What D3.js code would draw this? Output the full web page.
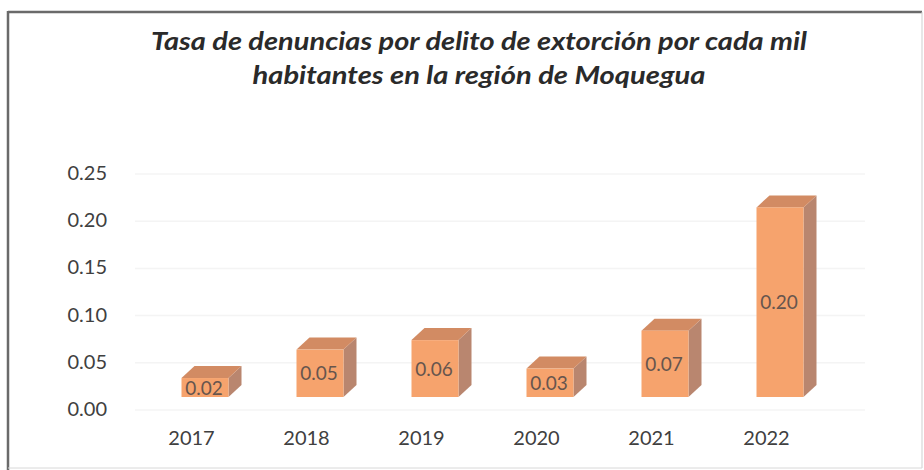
<!DOCTYPE html>
<html>
<head>
<meta charset="utf-8">
<script src="https://cdn.jsdelivr.net/npm/d3@7"></script>
<style>
  body { margin: 0; background: #fff; }
  text { font-family: Lato, "Open Sans", sans-serif; }
</style>
</head>
<body>
<script>
const width = 924;
const height = 470;

// data
const years = ["2017", "2018", "2019", "2020", "2021", "2022"];
const tasas = [0.02, 0.05, 0.06, 0.03, 0.07, 0.20];
const tickValues = [0, 0.05, 0.10, 0.15, 0.20, 0.25];
const titleLines = [
    "Tasa de denuncias por delito de extorción por cada mil",
    "habitantes en la región de Moquegua"
];

const colorFront = "#f6a36d";
const colorTop = "#d28b63";
const colorSide = "#b9866f";

const svg = d3.select("body")
    .append("svg")
    .attr("width", width)
    .attr("height", height);

// frame
svg.append("rect")
    .attr("x", 0).attr("y", 0)
    .attr("width", width).attr("height", height)
    .attr("fill", "#fff");
svg.append("line")
    .attr("x1", 8).attr("y1", 12).attr("x2", 922).attr("y2", 12)
    .attr("stroke", "#6a6a6a").attr("stroke-width", 2.5);
svg.append("line")
    .attr("x1", 8).attr("y1", 11).attr("x2", 8).attr("y2", 470)
    .attr("stroke", "#6a6a6a").attr("stroke-width", 2.5);
svg.append("line")
    .attr("x1", 922).attr("y1", 12).attr("x2", 922).attr("y2", 468)
    .attr("stroke", "#cfcfcf").attr("stroke-width", 1);
svg.append("line")
    .attr("x1", 8).attr("y1", 468).attr("x2", 922).attr("y2", 468)
    .attr("stroke", "#d8d8d8").attr("stroke-width", 1);

// title
svg.append("g")
    .selectAll("text")
    .data(titleLines)
    .enter()
    .append("text")
    .attr("x", 479)
    .attr("y", (d, i) => 50 + i * 34)
    .attr("text-anchor", "middle")
    .attr("font-size", 25)
    .attr("font-weight", "bold")
    .attr("font-style", "italic")
    .attr("fill", "#2a2a2a")
    .attr("textLength", (d, i) => i === 0 ? 656 : 453)
    .attr("lengthAdjust", "spacingAndGlyphs")
    .text(d => d);

// scales
const x = d3.scaleBand()
    .domain(years)
    .range([134, 824])
    .padding(0);

// back wall (axis labels / gridlines)
const yWall = d3.scaleLinear().domain([0, 0.25]).range([409, 173]);
// front face of the columns
const yBar = d3.scaleLinear().domain([0, 0.25]).range([397, 160]);

const depthX = 13;
const depthY = -12;
const faceW = 47;
const faceOff = -10;

// faint gridlines on the back wall
svg.append("g")
    .selectAll("line")
    .data(tickValues)
    .enter()
    .append("line")
    .attr("x1", 135)
    .attr("x2", 865)
    .attr("y1", d => yWall(d) + 1)
    .attr("y2", d => yWall(d) + 1)
    .attr("stroke", "#f4f4f4")
    .attr("stroke-width", 1.5);

// y axis
const yAxis = d3.axisLeft(yWall)
    .tickValues(tickValues)
    .tickFormat(d3.format(".2f"))
    .tickSize(0)
    .tickPadding(0);
const gy = svg.append("g")
    .attr("transform", "translate(107,0)")
    .call(yAxis);
gy.select(".domain").remove();
gy.selectAll("text")
    .attr("font-size", 20)
    .attr("fill", "#404040");

// x axis labels
const xAxis = d3.axisBottom(x).tickSize(0).tickPadding(0);
const gx = svg.append("g")
    .attr("transform", "translate(0,431)")
    .call(xAxis);
gx.select(".domain").remove();
gx.selectAll("text")
    .attr("font-size", 20)
    .attr("fill", "#404040");

// 3D columns
const bars = svg.append("g")
    .selectAll("g")
    .data(years.map((y, i) => ({ year: y, value: tasas[i] })))
    .enter()
    .append("g");

const fx = d => x(d.year) + x.bandwidth() / 2 + faceOff;

bars.append("path")
    .attr("fill", colorSide)
    .attr("d", d => {
        const x1 = fx(d) + faceW, yt = yBar(d.value), yb = yBar(0);
        return `M${x1},${yt} L${x1 + depthX},${yt + depthY} L${x1 + depthX},${yb + depthY} L${x1},${yb} Z`;
    });

bars.append("path")
    .attr("fill", colorTop)
    .attr("d", d => {
        const x0 = fx(d), x1 = x0 + faceW, yt = yBar(d.value);
        return `M${x0},${yt} L${x0 + depthX},${yt + depthY} L${x1 + depthX},${yt + depthY} L${x1},${yt} Z`;
    });

bars.append("rect")
    .attr("x", d => fx(d))
    .attr("y", d => yBar(d.value))
    .attr("width", faceW)
    .attr("height", d => yBar(0) - yBar(d.value))
    .attr("fill", colorFront);

// data labels
bars.append("text")
    .attr("x", d => fx(d) + faceW / 2 - 1)
    .attr("y", d => (yBar(d.value) + yBar(0)) / 2 + 7)
    .attr("text-anchor", "middle")
    .attr("font-size", 19)
    .attr("fill", "#66554d")
    .text(d => d3.format(".2f")(d.value));
</script>
</body>
</html>
